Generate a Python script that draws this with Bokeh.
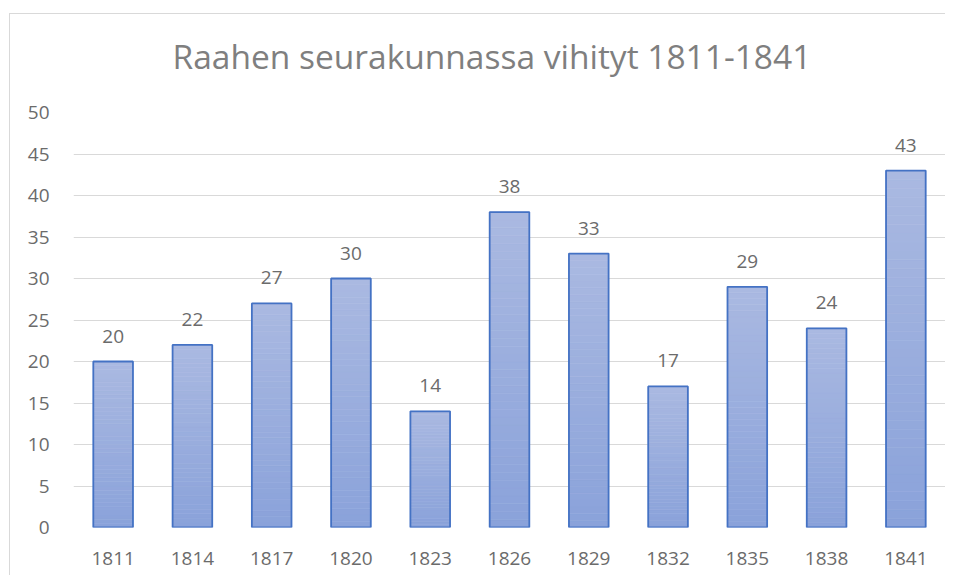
from bokeh.plotting import figure
from bokeh.models import FixedTicker, ColumnDataSource, LabelSet
from bokeh.core.properties import value
from bokeh.embed import file_html
from bokeh.resources import INLINE

# ---- data ----
years = ["1811", "1814", "1817", "1820", "1823", "1826", "1829", "1832", "1835", "1838", "1841"]
counts = [20, 22, 27, 30, 14, 38, 33, 17, 29, 24, 43]
y_ticks = [0, 5, 10, 15, 20, 25, 30, 35, 40, 45, 50]
title_text = "Raahen seurakunnassa vihityt 1811-1841"

FONT = "Open Sans"
bottom_rgb = (0x8A, 0xA2, 0xDA)
top_rgb = (0xAA, 0xB9, 0xE1)

frame_lines = ("linear-gradient(#D9D9D9, #D9D9D9) 0px 13px / 100% 1px no-repeat, "
               "linear-gradient(#D9D9D9, #D9D9D9) 0px 13px / 1px 100% no-repeat, white")

p = figure(
    x_range=years, y_range=(0, 50),
    width=936, height=575,
    output_backend="svg", toolbar_location=None,
    min_border_left=64, min_border_right=0, min_border_top=112, min_border_bottom=48,
    margin=(0, 0, 0, 9),
    styles={"background": frame_lines},
)
p.outline_line_color = None
p.background_fill_color = "white"
p.border_fill_color = None

# title
p.title.text = title_text
p.title.align = "left"
p.title.offset = 99
p.title.vertical_align = "top"
p.title.text_font = FONT
p.title.text_font_size = "33.5px"
p.title.text_font_style = "normal"
p.title.text_color = "#7F7F7F"
p.title.standoff = 64

# gradient bars: thin strips whose colour runs from bottom to top of each bar
N = 40
sx, sb, st, sc = [], [], [], []
for yr, v in zip(years, counts):
    for i in range(N):
        f = (i + 0.5) / N
        r = round(bottom_rgb[0] + (top_rgb[0] - bottom_rgb[0]) * f)
        g = round(bottom_rgb[1] + (top_rgb[1] - bottom_rgb[1]) * f)
        b = round(bottom_rgb[2] + (top_rgb[2] - bottom_rgb[2]) * f)
        sx.append(yr)
        sb.append(v * i / N)
        st.append(v * (i + 1) / N)
        sc.append("#%02X%02X%02X" % (r, g, b))
strips = ColumnDataSource(dict(x=sx, bottom=sb, top=st, color=sc))
p.vbar(x="x", bottom="bottom", top="top", width=0.5, source=strips,
       fill_color="color", line_color="color", line_width=0.6)

src = ColumnDataSource(dict(x=years, top=counts, lbl=[str(c) for c in counts]))
p.vbar(x="x", top="top", width=0.5, source=src, fill_alpha=0,
       line_color="#4472C4", line_width=1.8)

labels = LabelSet(x="x", y="top", text="lbl", source=src, y_offset=19,
                  text_align="center", text_baseline="alphabetic",
                  text_font=value(FONT), text_font_size=value("19px"), text_color=value("#6B6B6B"))
p.add_layout(labels)

# axes
p.yaxis.ticker = FixedTicker(ticks=y_ticks)
for ax in (p.xaxis, p.yaxis):
    ax.axis_line_color = None
    ax.major_tick_line_color = None
    ax.minor_tick_line_color = None
    ax.major_label_text_font = FONT
    ax.major_label_text_font_size = "19px"
    ax.major_label_text_color = "#6B6B6B"
p.yaxis.major_label_standoff = 18
p.xaxis.major_label_standoff = 18
p.xgrid.grid_line_color = None
p.ygrid.grid_line_color = "#D9D9D9"
p.ygrid.grid_line_width = 1

open("out.html", "w").write(file_html(p, INLINE))
